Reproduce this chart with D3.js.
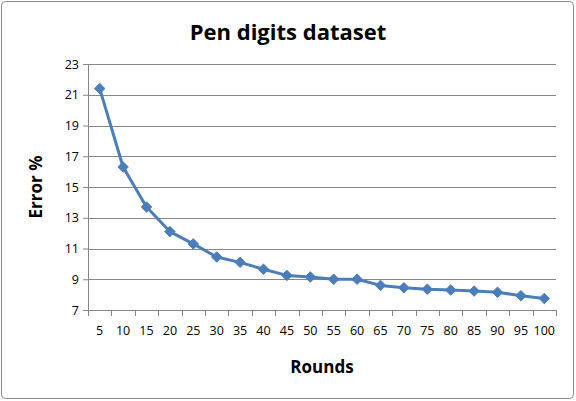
<!DOCTYPE html>
<html>
<head>
<meta charset="utf-8">
<script src="https://cdn.jsdelivr.net/npm/d3@7"></script>
<style>
  body { margin: 0; background: #fff; }
  text { font-family: "Open Sans", "Liberation Sans", sans-serif; }
</style>
</head>
<body>
<div id="chart"></div>
<script>
'use strict';

var rounds = [5, 10, 15, 20, 25, 30, 35, 40, 45, 50, 55, 60, 65, 70, 75, 80, 85, 90, 95, 100];
var errorValues = [21.4, 16.3, 13.7, 12.1, 11.3, 10.45, 10.1, 9.65, 9.25, 9.15, 9.0, 9.0, 8.6, 8.45, 8.35, 8.3, 8.23, 8.15, 7.93, 7.75];
var yTicks = [7, 9, 11, 13, 15, 17, 19, 21, 23];

var width = 576;
var height = 401;
var margin = { top: 64, right: 20, bottom: 91, left: 88 };
var innerW = width - margin.left - margin.right;
var innerH = height - margin.top - margin.bottom;
var lineColor = '#4a7ebb';

var svg = d3.select('#chart')
    .append('svg')
    .attr('width', width)
    .attr('height', height);

// chart border
svg.append('rect')
    .attr('x', 1.5).attr('y', 1.5)
    .attr('width', width - 4).attr('height', height - 4)
    .attr('rx', 4)
    .attr('fill', '#fff')
    .attr('stroke', '#8c8c8c');

var g = svg.append('g')
    .attr('transform', 'translate(' + margin.left + ',' + margin.top + ')');

var x = d3.scaleBand()
    .domain(rounds)
    .range([0, innerW]);

var y = d3.scaleLinear()
    .domain([7, 23])
    .range([innerH, 0]);

// gridlines
g.selectAll('.grid')
    .data(yTicks.slice(1))
    .enter()
    .append('line')
    .attr('x1', 0).attr('x2', innerW)
    .attr('y1', function(d) { return Math.round(y(d)) + 0.5; })
    .attr('y2', function(d) { return Math.round(y(d)) + 0.5; })
    .attr('stroke', '#868686');

// y axis
var yAxis = g.append('g')
    .call(d3.axisLeft(y).tickValues(yTicks).tickSize(5).tickPadding(4));
yAxis.select('.domain').attr('stroke', '#868686');
yAxis.selectAll('.tick line').attr('stroke', '#868686');
yAxis.selectAll('text').attr('font-size', 12.5).attr('fill', '#000');

// x axis, ticks at category boundaries
var xAxisG = g.append('g')
    .attr('transform', 'translate(0,' + innerH + ')');
xAxisG.append('line')
    .attr('x1', 0).attr('x2', innerW)
    .attr('y1', 0.5).attr('y2', 0.5)
    .attr('stroke', '#868686');
xAxisG.selectAll('.xtick')
    .data(rounds.concat(['end']))
    .enter()
    .append('line')
    .attr('x1', function(d, i) { return Math.round(i * x.step()) + 0.5; })
    .attr('x2', function(d, i) { return Math.round(i * x.step()) + 0.5; })
    .attr('y1', 0).attr('y2', 6)
    .attr('stroke', '#868686');
xAxisG.selectAll('.xlabel')
    .data(rounds)
    .enter()
    .append('text')
    .attr('x', function(d) { return x(d) + x.bandwidth() / 2; })
    .attr('y', 25)
    .attr('text-anchor', 'middle')
    .attr('font-size', 12.5)
    .text(function(d) { return d; });

// line
var line = d3.line()
    .x(function(d, i) { return x(rounds[i]) + x.bandwidth() / 2; })
    .y(function(d) { return y(d); });

g.append('path')
    .datum(errorValues)
    .attr('d', line)
    .attr('fill', 'none')
    .attr('stroke', lineColor)
    .attr('stroke-width', 3)
    .attr('stroke-linejoin', 'round');

var diamond = d3.symbol().type(d3.symbolDiamond2).size(70);
g.selectAll('.marker')
    .data(errorValues)
    .enter()
    .append('path')
    .attr('d', diamond)
    .attr('transform', function(d, i) {
        return 'translate(' + (x(rounds[i]) + x.bandwidth() / 2) + ',' + y(d) + ')';
    })
    .attr('fill', lineColor)
    .attr('stroke', lineColor)
    .attr('stroke-width', 1);

// titles
svg.append('text')
    .attr('x', 288).attr('y', 40)
    .attr('text-anchor', 'middle')
    .attr('font-size', 22)
    .attr('font-weight', 'bold')
    .text('Pen digits dataset');

svg.append('text')
    .attr('x', 322).attr('y', 373)
    .attr('text-anchor', 'middle')
    .attr('font-size', 17)
    .attr('font-weight', 'bold')
    .text('Rounds');

svg.append('text')
    .attr('transform', 'translate(42,' + (margin.top + innerH / 2) + ') rotate(-90)')
    .attr('text-anchor', 'middle')
    .attr('font-size', 17)
    .attr('font-weight', 'bold')
    .text('Error %');
</script>
</body>
</html>
